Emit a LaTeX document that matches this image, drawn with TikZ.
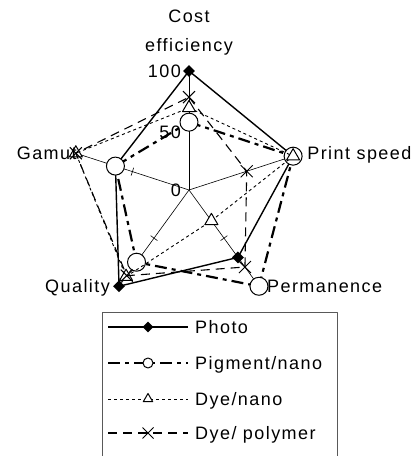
\documentclass[tikz,border=0pt]{standalone}
\usepackage{fontspec}
\setmainfont{Liberation Sans}[LetterSpace=8]
\usetikzlibrary{shapes.geometric,shapes.misc}
\tikzset{
  every picture/.style={line join=round},
  spoke/.style={line width=0.6pt},
  photo/.style={line width=1.4pt},
  pigment/.style={line width=2.2pt, dash pattern=on 12pt off 5pt on 4pt off 5pt},
  dyenano/.style={line width=0.9pt, dash pattern=on 3pt off 3pt},
  dyepoly/.style={line width=1.1pt, dash pattern=on 9pt off 6pt},
  dmark/.style={diamond, fill=black, inner sep=0pt, minimum size=12pt},
  omark/.style={circle, draw, fill=white, line width=1pt, inner sep=0pt, minimum size=18pt},
  tmark/.style={regular polygon, regular polygon sides=3, draw, fill=white, line width=1pt, inner sep=0pt, minimum size=15pt},
  xmark/.style={cross out, draw, line width=1pt, inner sep=0pt, minimum size=11pt},
  axislabel/.style={inner sep=0pt, yshift=-6.5pt},
  numlabel/.style={anchor=base east, inner sep=0pt, xshift=-8pt, yshift=-6.5pt},
  keytext/.style={anchor=base west, inner sep=0pt},
}

\begin{document}
\begin{tikzpicture}[x=1pt, y=1pt, font=\fontsize{18pt}{29pt}\selectfont]
\useasboundingbox (0,0) rectangle (414,456);

% spokes and data points
\begin{scope}[shift={(189,266)}, scale=1.19]
  \coordinate (o) at (0,0);
  \coordinate (cost) at (90:100);
  \coordinate (speed) at (18:100);
  \coordinate (perm) at (-54:100);
  \coordinate (qual) at (-126:100);
  \coordinate (gamut) at (162:100);
  \coordinate (half) at (90:50);
  \foreach \a in {90,18,-54,-126,162}
    \draw[spoke] (0,0) -- (\a:100) (\a:50) ++(\a+90:3.5) -- ++(\a-90:7);
  % Photo
  \coordinate (ph-cost) at (90:100);
  \coordinate (ph-speed) at (18:92);
  \coordinate (ph-perm) at (-54:70);
  \coordinate (ph-qual) at (-126:100);
  \coordinate (ph-gamut) at (162:65);
  % Pigment/nano
  \coordinate (pg-cost) at (90:57);
  \coordinate (pg-speed) at (18:92);
  \coordinate (pg-perm) at (-54:100);
  \coordinate (pg-qual) at (-126:75);
  \coordinate (pg-gamut) at (162:65);
  % Dye/nano
  \coordinate (dn-cost) at (90:69);
  \coordinate (dn-speed) at (18:92);
  \coordinate (dn-perm) at (-54:32);
  \coordinate (dn-qual) at (-126:90);
  \coordinate (dn-gamut) at (162:100);
  % Dye/polymer
  \coordinate (dp-cost) at (90:78);
  \coordinate (dp-speed) at (18:51);
  \coordinate (dp-perm) at (-54:80);
  \coordinate (dp-qual) at (-126:89);
  \coordinate (dp-gamut) at (162:100);
\end{scope}

\draw[photo] (ph-cost) -- (ph-speed) -- (ph-perm) -- (ph-qual) -- (ph-gamut) -- cycle;
\foreach \p in {cost,speed,perm,qual,gamut}
  \node[dmark] (ph-\p-m) at (ph-\p) {};
\draw[pigment] (pg-cost) -- (pg-speed) -- (pg-perm) -- (pg-qual) -- (pg-gamut) -- cycle;
\foreach \p in {cost,speed,perm,qual,gamut}
  \node[omark] (pg-\p-m) at (pg-\p) {};
\draw[dyenano] (dn-cost) -- (dn-speed) -- (dn-perm) -- (dn-qual) -- (dn-gamut) -- cycle;
\foreach \p in {cost,speed,perm,qual,gamut}
  \node[tmark] (dn-\p-m) at (dn-\p) {};
\draw[dyepoly] (dp-cost) -- (dp-speed) -- (dp-perm) -- (dp-qual) -- (dp-gamut) -- cycle;
\foreach \p in {cost,speed,perm,qual,gamut}
  \node[xmark] (dp-\p-m) at (dp-\p) {};

% axis labels
\node[inner sep=0pt, anchor=north, align=center] (lcost) at (189,446) {Cost\\efficiency};
\node[axislabel, anchor=base west, xshift=5pt] (lspeed) at (speed) {Print speed};
\node[axislabel, anchor=base west, xshift=8pt] (lperm) at (perm) {Permanence};
\node[axislabel, anchor=base east, xshift=-9pt] (lqual) at (qual) {Quality};
\node[axislabel, anchor=base east, xshift=1pt] (lgamut) at (gamut) {Gamut};
\node[numlabel] (n0) at (o) {0};
\node[numlabel, yshift=-1.5pt] (n50) at (half) {50};
\node[numlabel] (n100) at (cost) {100};

% legend
\draw[line width=1pt, black!65] (102,143) rectangle (337,-5);
\coordinate (k1w) at (108,129); \coordinate (k1e) at (188,129);
\draw[photo] (k1w) -- (k1e);
\node[dmark, minimum size=11pt] (k1) at (148,129) {};
\node[keytext] (t1) at (195,122.5) {Photo};
\coordinate (k2w) at (108,93); \coordinate (k2e) at (188,93);
\draw[pigment] (k2w) -- (k2e);
\node[omark, minimum size=10pt] (k2) at (148,93) {};
\node[keytext] (t2) at (195,86.5) {Pigment/nano};
\coordinate (k3w) at (108,57); \coordinate (k3e) at (188,57);
\draw[dyenano] (k3w) -- (k3e);
\node[tmark, minimum size=11pt] (k3) at (148,57) {};
\node[keytext] (t3) at (195,50.5) {Dye/nano};
\coordinate (k4w) at (108,23); \coordinate (k4e) at (188,23);
\draw[dyepoly] (k4w) -- (k4e);
\node[xmark, minimum size=10pt] (k4) at (148,23) {};
\node[keytext] (t4) at (195,16.5) {Dye/ polymer};
\end{tikzpicture}
\end{document}
